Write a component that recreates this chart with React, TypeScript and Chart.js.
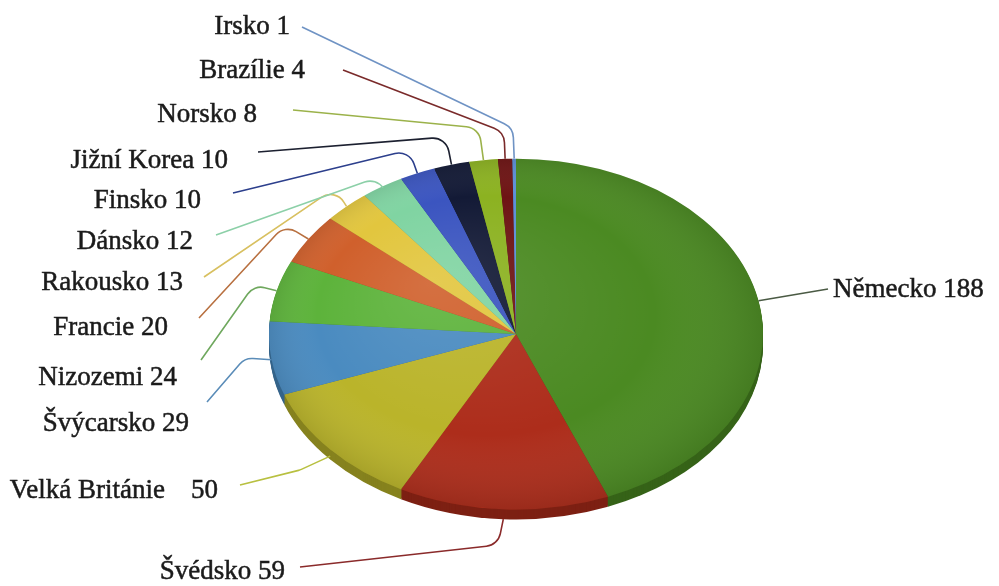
import React, { useEffect, useRef } from "react";
import { Chart, registerables } from "chart.js";

Chart.register(...registerables);

// ---- data ----
const countries = [
  "Německo",
  "Švédsko",
  "Velká Británie",
  "Švýcarsko",
  "Nizozemi",
  "Francie",
  "Rakousko",
  "Dánsko",
  "Finsko",
  "Jižní Korea",
  "Norsko",
  "Brazílie",
  "Irsko",
];
const counts = [188, 59, 50, 29, 24, 20, 13, 12, 10, 10, 8, 4, 1];

// ---- styles ----
const sliceColors = [
  "#4b8a22",
  "#ad2d1b",
  "#bab42a",
  "#4a8bc0",
  "#5db33b",
  "#d0602c",
  "#e2c63e",
  "#80d4a2",
  "#3b55c0",
  "#131a36",
  "#8cb221",
  "#6e1414",
  "#5c90d8",
];
const lineColors = [
  "#4a5a44",
  "#8a2a2a",
  "#b8c040",
  "#5a8cb8",
  "#6fa85e",
  "#b87040",
  "#d8c060",
  "#8cd0a8",
  "#2c3f8c",
  "#1c2030",
  "#9bb24a",
  "#7a2a2a",
  "#6f93c4",
];

// ---- layout (label anchors and leader elbows, pixels) ----
type LabelLayout = {
  tx: number;
  ty: number;
  align: "left" | "right";
  sx: number;
  sy: number;
  elx?: number;
  ely?: number;
  gap?: number;
};
const labelLayout: LabelLayout[] = [
  { tx: 833, ty: 290, align: "left", sx: 828, sy: 289 },
  { tx: 285, ty: 572, align: "right", sx: 300, sy: 567, elx: 498, ely: 545 },
  { tx: 218, ty: 491, align: "right", sx: 240, sy: 485, elx: 300, ely: 470, gap: 26 },
  { tx: 189, ty: 424, align: "right", sx: 207, sy: 402, elx: 245, ely: 358 },
  { tx: 177, ty: 378, align: "right", sx: 201, sy: 360, elx: 254, ely: 285 },
  { tx: 168, ty: 328, align: "right", sx: 199, sy: 318, elx: 285, ely: 225 },
  { tx: 183, ty: 283, align: "right", sx: 204, sy: 277, elx: 335, ely: 188 },
  { tx: 193, ty: 242, align: "right", sx: 216, sy: 235, elx: 376, ely: 178 },
  { tx: 201, ty: 201, align: "right", sx: 233, sy: 193, elx: 409, ely: 150 },
  { tx: 228, ty: 161, align: "right", sx: 258, sy: 152, elx: 446, ely: 137 },
  { tx: 257, ty: 115, align: "right", sx: 293, sy: 110, elx: 479, ely: 128 },
  { tx: 305, ty: 71, align: "right", sx: 343, sy: 70, elx: 504, ely: 132 },
  { tx: 290, ty: 27, align: "right", sx: 302, sy: 27, elx: 513, ely: 128 },
];

const SQUASH = 0.71;
const DEPTH = 10;
const FONT = "27px 'Liberation Serif', 'Times New Roman', serif";

function darken(hex: string, f: number): string {
  const n = parseInt(hex.slice(1), 16);
  const r = Math.round(((n >> 16) & 255) * f);
  const g = Math.round(((n >> 8) & 255) * f);
  const b = Math.round((n & 255) * f);
  return `rgb(${r},${g},${b})`;
}

const pie3d = {
  id: "pie3d",
  beforeDatasetsDraw(chart: any) {
    const ctx: CanvasRenderingContext2D = chart.ctx;
    const arcs = chart.getDatasetMeta(0).data;
    if (!arcs.length) return;
    const cx = arcs[0].x;
    const cy = arcs[0].y;
    // side walls
    for (let d = DEPTH; d >= 1; d--) {
      ctx.save();
      ctx.translate(cx, cy + d);
      ctx.scale(1, SQUASH);
      ctx.translate(-cx, -cy);
      arcs.forEach((a: any, i: number) => {
        ctx.beginPath();
        ctx.moveTo(a.x, a.y);
        ctx.arc(a.x, a.y, a.outerRadius, a.startAngle, a.endAngle);
        ctx.closePath();
        ctx.fillStyle = darken(sliceColors[i], 0.72);
        ctx.fill();
      });
      ctx.restore();
    }
    ctx.save();
    ctx.translate(cx, cy);
    ctx.scale(1, SQUASH);
    ctx.translate(-cx, -cy);
  },
  afterDatasetsDraw(chart: any) {
    const ctx: CanvasRenderingContext2D = chart.ctx;
    const arcs = chart.getDatasetMeta(0).data;
    if (!arcs.length) return;
    const cx = arcs[0].x;
    const cy = arcs[0].y;
    const R = arcs[0].outerRadius;
    // soft shading on the top face
    const g = ctx.createRadialGradient(cx - R * 0.35, cy - R * 0.3, 0, cx, cy, R * 1.05);
    g.addColorStop(0, "rgba(255,255,255,0.10)");
    g.addColorStop(0.65, "rgba(255,255,255,0)");
    g.addColorStop(1, "rgba(0,0,0,0.14)");
    ctx.beginPath();
    ctx.arc(cx, cy, R, 0, Math.PI * 2);
    ctx.fillStyle = g;
    ctx.fill();
    ctx.restore();

    // leader lines and labels
    ctx.save();
    ctx.font = FONT;
    ctx.textBaseline = "middle";
    arcs.forEach((a: any, i: number) => {
      const L = labelLayout[i];
      const mid = (a.startAngle + a.endAngle) / 2;
      const s = Math.sin(mid);
      const ex = cx + R * Math.cos(mid);
      const ey = cy + R * SQUASH * s + DEPTH * Math.max(0, s);
      ctx.beginPath();
      ctx.moveTo(L.sx, L.sy);
      if (L.elx !== undefined && L.ely !== undefined) {
        ctx.arcTo(L.elx, L.ely, ex, ey, 16);
      }
      ctx.lineTo(ex, ey);
      ctx.strokeStyle = lineColors[i];
      ctx.lineWidth = 1.6;
      ctx.stroke();

      ctx.fillStyle = "#1b1b1b";
      ctx.strokeStyle = "#1b1b1b";
      ctx.lineWidth = 0.5;
      const val = String(counts[i]);
      const put = (t: string, x: number, y: number) => {
        ctx.fillText(t, x, y);
        ctx.strokeText(t, x, y);
      };
      if (L.gap) {
        ctx.textAlign = "right";
        put(val, L.tx, L.ty);
        const w = ctx.measureText(val).width;
        put(countries[i], L.tx - w - L.gap, L.ty);
      } else {
        ctx.textAlign = L.align;
        put(`${countries[i]} ${val}`, L.tx, L.ty);
      }
    });
    ctx.restore();
  },
};

export default function App() {
  const ref = useRef<HTMLCanvasElement | null>(null);
  useEffect(() => {
    if (!ref.current) return;
    const chart = new Chart(ref.current, {
      type: "pie",
      data: {
        labels: countries,
        datasets: [
          {
            data: counts,
            backgroundColor: sliceColors,
            borderWidth: 0,
          },
        ],
      },
      options: {
        responsive: false,
        animation: false,
        events: [],
        layout: { padding: { left: 269, right: 236, top: 87, bottom: 5 } },
        plugins: {
          legend: { display: false },
          tooltip: { enabled: false },
        },
      },
      plugins: [pie3d],
    });
    return () => chart.destroy();
  }, []);
  return (
    <div style={{ position: "absolute", left: 0, top: 0, width: 999, height: 586, background: "#fff" }}>
      <canvas ref={ref} width={999} height={586} style={{ display: "block" }} />
    </div>
  );
}
